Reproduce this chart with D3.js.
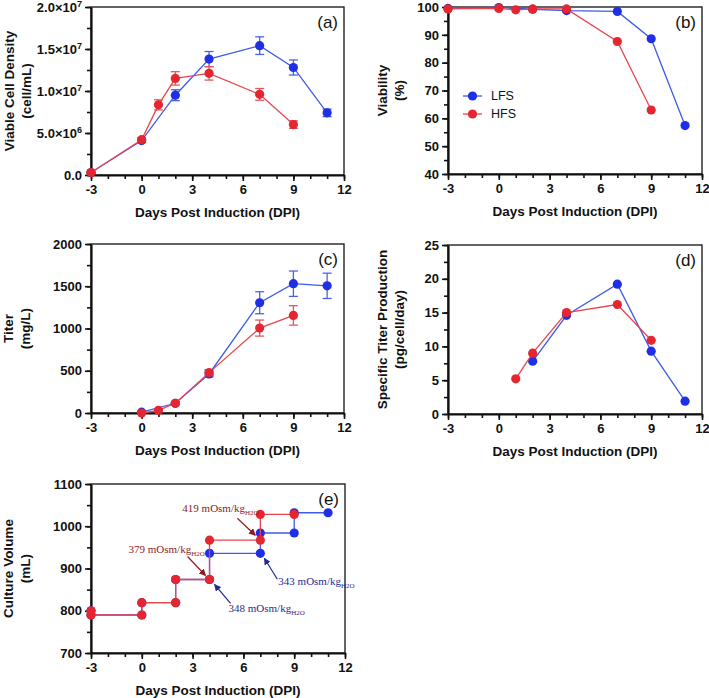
<!DOCTYPE html>
<html>
<head>
<meta charset="utf-8">
<script src="https://cdn.jsdelivr.net/npm/d3@7"></script>
<style>
  body { margin: 0; background: #fff; }
  svg { display: block; font-family: "Liberation Sans", Arial, sans-serif; }
</style>
</head>
<body>
<svg id="chart" width="709" height="698"></svg>
<script>
// ---- data ----
const xTicks = [-3, 0, 3, 6, 9, 12];

// (a) viable cell density
const vcdLfsDays = [-3, 0, 2, 4, 7, 9, 11];
const vcdLfs = [0.3e6, 4.1e6, 9.5e6, 13.8e6, 15.4e6, 12.8e6, 7.4e6];
const vcdLfsErr = [0.1e6, 0.2e6, 0.65e6, 0.9e6, 1.05e6, 0.9e6, 0.45e6];
const vcdHfsDays = [-3, 0, 1, 2, 4, 7, 9];
const vcdHfs = [0.3e6, 4.2e6, 8.35e6, 11.5e6, 12.1e6, 9.6e6, 6.0e6];
const vcdHfsErr = [0.1e6, 0.2e6, 0.6e6, 0.8e6, 0.8e6, 0.7e6, 0.45e6];

// (b) viability
const viaLfsDays = [-3, 0, 2, 4, 7, 9, 11];
const viaLfs = [99.5, 99.8, 99.2, 98.7, 98.4, 88.6, 57.4];
const viaHfsDays = [-3, 0, 1, 2, 4, 7, 9];
const viaHfs = [99.3, 99.5, 99.0, 99.3, 99.3, 87.6, 63.0];

// (c) titer
const titLfsDays = [0, 2, 4, 7, 9, 11];
const titLfs = [10, 115, 462, 1305, 1530, 1505];
const titLfsErr = [0, 10, 35, 130, 150, 150];
const titHfsDays = [0, 1, 2, 4, 7, 9];
const titHfs = [0, 32, 115, 478, 1005, 1155];
const titHfsErr = [0, 0, 10, 35, 95, 115];

// (d) specific titer production
const qpLfsDays = [2, 4, 7, 9, 11];
const qpLfs = [7.8, 14.6, 19.2, 9.3, 1.9];
const qpHfsDays = [1, 2, 4, 7, 9];
const qpHfs = [5.2, 9.0, 15.0, 16.2, 10.9];

// (e) culture volume (step path points)
const volLfsDays = [-3, -3, 0, 0, 2, 2, 4, 4, 7, 7, 9, 9, 11];
const volLfs = [800, 790, 790, 819, 819, 874, 874, 936, 936, 984, 984, 1032, 1032];
const volHfsDays = [-3, -3, 0, 0, 2, 2, 4, 4, 7, 7, 9];
const volHfs = [800, 790, 790, 819, 819, 874, 874, 967, 967, 1028, 1028];

const osmLabels = ["419", "379", "343", "348"];
const osmDays = [7, 4, 7, 4];
const osmVols = [967, 874, 936, 874];
const osmSeries = ["HFS", "HFS", "LFS", "LFS"];

const seriesNames = ["LFS", "HFS"];

// ---- styles ----
const COL = {
  LFS: { mark: "#1f2fe6", line: "#3d5be8", err: "#4a63e6" },
  HFS: { mark: "#e52630", line: "#e8454e", err: "#e8555c" }
};
const ANNO = { LFS: "#1d2b93", HFS: "#8e1a1e" };

const svg = d3.select("#chart");

function zip(days, vals, err) {
  return days.map((d, i) => ({ x: d, y: vals[i], e: err ? err[i] : 0 }));
}

function drawPanel(p) {
  const x = d3.scaleLinear().domain([-3, 12]).range([p.left, p.right]);
  const y = d3.scaleLinear().domain(p.yDomain).range([p.bottom, p.top]);
  const g = svg.append("g");

  // frame
  g.append("rect")
    .attr("x", p.left).attr("y", p.top)
    .attr("width", p.right - p.left).attr("height", p.bottom - p.top)
    .attr("fill", "none").attr("stroke", "#111").attr("stroke-width", 1.3);

  // minor ticks
  g.append("g").attr("transform", `translate(0,${p.bottom})`)
    .call(d3.axisBottom(x).tickValues(d3.range(-3, 13, 1)).tickSize(4).tickFormat("").tickSizeOuter(0))
    .call(s => s.select(".domain").remove());
  g.append("g").attr("transform", `translate(${p.left},0)`)
    .call(d3.axisLeft(y).tickValues(p.yMinor).tickSize(4).tickFormat("").tickSizeOuter(0))
    .call(s => s.select(".domain").remove());

  // major axes
  const ax = g.append("g").attr("transform", `translate(0,${p.bottom})`)
    .call(d3.axisBottom(x).tickValues(xTicks).tickSize(6).tickPadding(4).tickSizeOuter(0)
      .tickFormat(d => String(d)));
  const ay = g.append("g").attr("transform", `translate(${p.left},0)`)
    .call(d3.axisLeft(y).tickValues(p.yMajor).tickSize(6).tickPadding(3).tickSizeOuter(0)
      .tickFormat(p.yFormat || d3.format("d")));
  [ax, ay].forEach(a => {
    a.select(".domain").attr("stroke", "#111").attr("stroke-width", 2.2);
    a.selectAll("text").attr("font-size", 13).attr("font-weight", "bold").attr("fill", "#111")
      .attr("font-family", "Liberation Sans, Arial, sans-serif");
  });
  g.selectAll(".tick line").attr("stroke", "#111").attr("stroke-width", 1.6);
  if (p.sciY) {
    ay.selectAll(".tick text").each(function (v) {
      const t = d3.select(this).text("");
      if (v === 0) { t.text("0.0"); return; }
      const ex = Math.floor(Math.log10(v));
      const m = (v / Math.pow(10, ex)).toFixed(1);
      t.append("tspan").text(m + "×10");
      t.append("tspan").attr("dy", -5).attr("font-size", 9).text(ex);
    });
  }

  // x title
  g.append("text")
    .attr("x", (p.left + p.right) / 2).attr("y", p.bottom + 42)
    .attr("text-anchor", "middle").attr("font-size", 13.5).attr("font-weight", "bold")
    .attr("fill", "#111").text("Days Post Induction (DPI)");

  // y title (two lines)
  const cy = (p.top + p.bottom) / 2;
  p.yTitle.forEach((line, i) => {
    g.append("text")
      .attr("transform", `translate(${p.yTitleX + i * 17},${cy}) rotate(-90)`)
      .attr("text-anchor", "middle").attr("dominant-baseline", "middle")
      .attr("font-size", 13.5).attr("font-weight", "bold").attr("fill", "#111")
      .text(line);
  });

  // panel letter
  g.append("text")
    .attr("x", p.right - 6).attr("y", p.top + 21)
    .attr("text-anchor", "end").attr("font-size", 17).attr("fill", "#111")
    .text(p.letter);

  // series (LFS first, HFS drawn on top)
  p.series.forEach(s => {
    const c = COL[s.name];
    const pts = s.pts;
    const line = d3.line().x(d => x(d.x)).y(d => y(d.y));
    g.append("path").datum(pts).attr("d", line)
      .attr("fill", "none").attr("stroke", c.line).attr("stroke-width", 1.3);
    const eb = pts.filter(d => d.e > 0);
    const eg = g.append("g").attr("stroke", c.err).attr("stroke-width", 1.3);
    eg.selectAll("line.v").data(eb).join("line")
      .attr("x1", d => x(d.x)).attr("x2", d => x(d.x))
      .attr("y1", d => y(d.y - d.e)).attr("y2", d => y(d.y + d.e));
    eg.selectAll("line.t").data(eb).join("line")
      .attr("x1", d => x(d.x) - 4.5).attr("x2", d => x(d.x) + 4.5)
      .attr("y1", d => y(d.y + d.e)).attr("y2", d => y(d.y + d.e));
    eg.selectAll("line.b").data(eb).join("line")
      .attr("x1", d => x(d.x) - 4.5).attr("x2", d => x(d.x) + 4.5)
      .attr("y1", d => y(d.y - d.e)).attr("y2", d => y(d.y - d.e));
    g.selectAll(null).data(pts).join("circle")
      .attr("cx", d => x(d.x)).attr("cy", d => y(d.y)).attr("r", 4.6)
      .attr("fill", c.mark);
  });

  return { g, x, y };
}

// (a)
drawPanel({
  left: 91, right: 344, top: 7, bottom: 175,
  yDomain: [0, 2e7], yMajor: [0, 5e6, 1e7, 1.5e7, 2e7], yMinor: d3.range(0, 2e7 + 1, 2.5e6),
  sciY: true, letter: "(a)", yTitle: ["Viable Cell Density", "(cell/mL)"], yTitleX: 10,
  series: [
    { name: "LFS", pts: zip(vcdLfsDays, vcdLfs, vcdLfsErr) },
    { name: "HFS", pts: zip(vcdHfsDays, vcdHfs, vcdHfsErr) }
  ]
});

// (b)
const pb = drawPanel({
  left: 448, right: 702, top: 7, bottom: 174,
  yDomain: [40, 100], yMajor: d3.range(40, 101, 10), yMinor: d3.range(40, 101, 5),
  letter: "(b)", yTitle: ["Viability", "(%)"], yTitleX: 383,
  series: [
    { name: "LFS", pts: zip(viaLfsDays, viaLfs) },
    { name: "HFS", pts: zip(viaHfsDays, viaHfs) }
  ]
});
// legend
const leg = pb.g.append("g").attr("transform", "translate(463,96)");
seriesNames.forEach((n, i) => {
  const r = leg.append("g").attr("transform", `translate(0,${i * 18})`);
  r.append("line").attr("x1", 0).attr("x2", 19).attr("stroke", COL[n].line).attr("stroke-width", 1.3);
  r.append("circle").attr("cx", 9.5).attr("r", 4.6).attr("fill", COL[n].mark);
  r.append("text").attr("x", 28).attr("dy", "0.35em").attr("font-size", 12.5).attr("fill", "#111").text(n);
});

// (c)
drawPanel({
  left: 91, right: 344, top: 244, bottom: 413,
  yDomain: [0, 2000], yMajor: d3.range(0, 2001, 500), yMinor: d3.range(0, 2001, 250),
  letter: "(c)", yTitle: ["Titer", "(mg/L)"], yTitleX: 9,
  series: [
    { name: "LFS", pts: zip(titLfsDays, titLfs, titLfsErr) },
    { name: "HFS", pts: zip(titHfsDays, titHfs, titHfsErr) }
  ]
});

// (d)
drawPanel({
  left: 448, right: 702, top: 245, bottom: 414,
  yDomain: [0, 25], yMajor: d3.range(0, 26, 5), yMinor: d3.range(0, 26, 2.5),
  letter: "(d)", yTitle: ["Specific Titer Production", "(pg/cell/day)"], yTitleX: 383,
  series: [
    { name: "LFS", pts: zip(qpLfsDays, qpLfs) },
    { name: "HFS", pts: zip(qpHfsDays, qpHfs) }
  ]
});

// (e)
const pe = drawPanel({
  left: 91, right: 345, top: 484, bottom: 653,
  yDomain: [700, 1100], yMajor: d3.range(700, 1101, 100), yMinor: d3.range(700, 1101, 50),
  letter: "(e)", yTitle: ["Culture Volume", "(mL)"], yTitleX: 9,
  series: [
    { name: "LFS", pts: zip(volLfsDays, volLfs) },
    { name: "HFS", pts: zip(volHfsDays, volHfs) }
  ]
});

// osmolality call-outs in (e): text offset and arrow relative to the target point
const calloutOffsets = [
  { tx: -78, ty: -28, ax1: -23, ay1: -22, ax2: -5, ay2: -5 },
  { tx: -81, ty: -26, ax1: -22, ay1: -23, ax2: -4, ay2: -4 },
  { tx: 18, ty: 32, ax1: 17, ay1: 26, ax2: 4, ay2: 5 },
  { tx: 19, ty: 33, ax1: 21, ay1: 24, ax2: 5, ay2: 5 }
];
const defs = svg.append("defs");
seriesNames.forEach(n => {
  defs.append("marker").attr("id", "arr" + n)
    .attr("viewBox", "0 0 10 10").attr("refX", 9).attr("refY", 5)
    .attr("markerWidth", 7).attr("markerHeight", 7).attr("orient", "auto-start-reverse")
    .attr("markerUnits", "userSpaceOnUse")
    .append("path").attr("d", "M0,0L10,5L0,10z").attr("fill", ANNO[n]);
});
osmLabels.forEach((lab, i) => {
  const o = calloutOffsets[i];
  const px = pe.x(osmDays[i]), py = pe.y(osmVols[i]);
  const c = ANNO[osmSeries[i]];
  pe.g.append("line")
    .attr("x1", px + o.ax1).attr("y1", py + o.ay1)
    .attr("x2", px + o.ax2).attr("y2", py + o.ay2)
    .attr("stroke", c).attr("stroke-width", 1.2)
    .attr("marker-end", `url(#arr${osmSeries[i]})`);
  const t = pe.g.append("text")
    .attr("x", px + o.tx).attr("y", py + o.ty)
    .attr("font-family", "Liberation Serif, Times New Roman, serif")
    .attr("font-size", 11).attr("fill", c);
  t.append("tspan").text(lab + " mOsm/kg");
  t.append("tspan").attr("dy", 2.5).attr("font-size", 7).text("H2O");
});
</script>
</body>
</html>
